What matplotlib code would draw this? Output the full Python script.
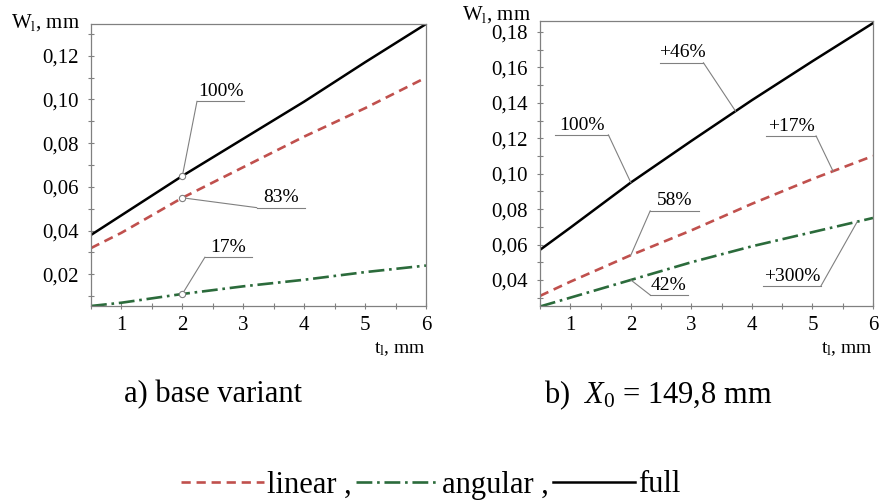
import numpy as np
import matplotlib
matplotlib.use('Agg')
import matplotlib.pyplot as plt
from matplotlib.ticker import MultipleLocator, FuncFormatter

plt.rcParams['font.family'] = ['Liberation Serif', 'DejaVu Serif']
plt.rcParams['mathtext.fontset'] = 'custom'
plt.rcParams['mathtext.rm'] = 'Liberation Serif'
plt.rcParams['mathtext.it'] = 'Liberation Serif:italic'

# t_l, mm
t = [0.5, 1, 2, 3, 4, 5, 6]

# a) base variant
full_a = [0.038, 0.047, 0.065, 0.082, 0.099, 0.117, 0.1345]
lin_a = [0.032, 0.039, 0.055, 0.069, 0.083, 0.096, 0.110]
ang_a = [0.0055, 0.007, 0.011, 0.0145, 0.0175, 0.021, 0.024]

# b) X0 = 149,8 mm
full_b = [0.057, 0.0695, 0.095, 0.1185, 0.1415, 0.1635, 0.185]
lin_b = [0.031, 0.039, 0.054, 0.068, 0.083, 0.097, 0.110]
ang_b = [0.025, 0.030, 0.040, 0.050, 0.059, 0.067, 0.075]

# label text, series, x on the line, underline x0, x1, y, leader end ('l'/'r')
notes_a = [
    ('100%', 'full', 2.0, 2.24, 3.02, 0.0991, 'l'),
    ('83%', 'lin', 2.0, 3.22, 4.01, 0.0505, 'l'),
    ('17%', 'ang', 2.0, 2.37, 3.14, 0.0278, 'l'),
]
notes_b = [
    ('+46%', 'full', 3.73, 2.49, 3.20, 0.1626, 'r'),
    ('100%', 'full', 2.0, 0.75, 1.63, 0.1219, 'r'),
    ('+17%', 'lin', 5.34, 4.23, 5.06, 0.1213, 'r'),
    ('58%', 'lin', 2.0, 2.32, 3.12, 0.0790, 'l'),
    ('42%', 'ang', 2.0, 2.32, 2.94, 0.0315, 'l'),
    ('+300%', 'ang', 5.74, 4.18, 5.14, 0.0366, 'r'),
]

red = '#c0504d'
green = '#2b6b3b'
gray = '#808080'

fig = plt.figure(figsize=(8.85, 5.03), dpi=100)
ax1 = fig.add_axes([91 / 885, 1 - 306 / 503, 335 / 885, 282 / 503])
ax2 = fig.add_axes([540 / 885, 1 - 306 / 503, 333 / 885, 285 / 503])

comma = FuncFormatter(lambda v, p: ('%.2f' % v).replace('.', ','))


def draw(ax, full, lin, ang, notes, ylim, circles):
    h_lin, = ax.plot(t, lin, color=red, lw=1.9, ls=(0, (3.5, 2.2)))
    h_ang, = ax.plot(t, ang, color=green, lw=1.9, ls=(0, (6, 1.8, 1, 1.8)))
    h_full, = ax.plot(t, full, color='black', lw=1.8)
    series = {'full': full, 'lin': lin, 'ang': ang}
    for label, key, px, x0, x1, y, end in notes:
        py = np.interp(px, t, series[key])
        xe = x0 if end == 'l' else x1
        ax.plot([x0, x1], [y, y], color=gray, lw=0.8)
        ax.plot([xe, px], [y, py], color=gray, lw=0.8)
        if circles:
            ax.plot(px, py, 'o', ms=4.5, mfc='white', mec=gray, mew=0.8, zorder=5)
        ax.annotate(label, ((x0 + x1) / 2, y), xytext=(0, 1), textcoords='offset points',
                    ha='center', va='bottom', fontsize=14)
    ax.set_xlim(0.5, 6)
    ax.set_ylim(*ylim)
    ax.xaxis.set_major_locator(MultipleLocator(1))
    ax.xaxis.set_minor_locator(MultipleLocator(0.5))
    ax.yaxis.set_major_locator(MultipleLocator(0.02))
    ax.yaxis.set_minor_locator(MultipleLocator(0.01))
    ax.yaxis.set_major_formatter(comma)
    ax.tick_params(which='both', direction='inout', length=5, width=0.8, color=gray,
                   labelsize=15)
    ax.tick_params(axis='x', pad=5)
    ax.tick_params(axis='y', pad=6)
    for s in ax.spines.values():
        s.set_color(gray)
        s.set_linewidth(0.9)
    ax.text(1.0, -0.12, r't$_\mathregular{l}$, mm', transform=ax.transAxes,
            ha='right', va='top', fontsize=14)
    return h_lin, h_ang, h_full


handles = draw(ax1, full_a, lin_a, ang_a, notes_a, (0.0055, 0.1345), True)
draw(ax2, full_b, lin_b, ang_b, notes_b, (0.0253, 0.1862), False)

fig.text(80 / 885, 1 - 23 / 503, r'W$_\mathregular{l}$, mm', ha='right', va='center', fontsize=15)
fig.text(531 / 885, 1 - 15 / 503, r'W$_\mathregular{l}$, mm', ha='right', va='center', fontsize=15)

fig.text(213 / 885, 1 - 395 / 503, 'a) base variant', ha='center', va='center', fontsize=22)
fig.text(658 / 885, 1 - 395 / 503, r'b)  $X_{\mathrm{0}}$ = 149,8 mm', ha='center', va='center', fontsize=22)

fig.legend(handles, ['linear ,', 'angular ,', 'full'], ncol=3, loc='center',
           bbox_to_anchor=(431 / 885, 1 - 485 / 503), frameon=False, fontsize=22,
           handlelength=2.7, handletextpad=0.1, columnspacing=0.15)

fig.savefig('out.png', dpi=100)
